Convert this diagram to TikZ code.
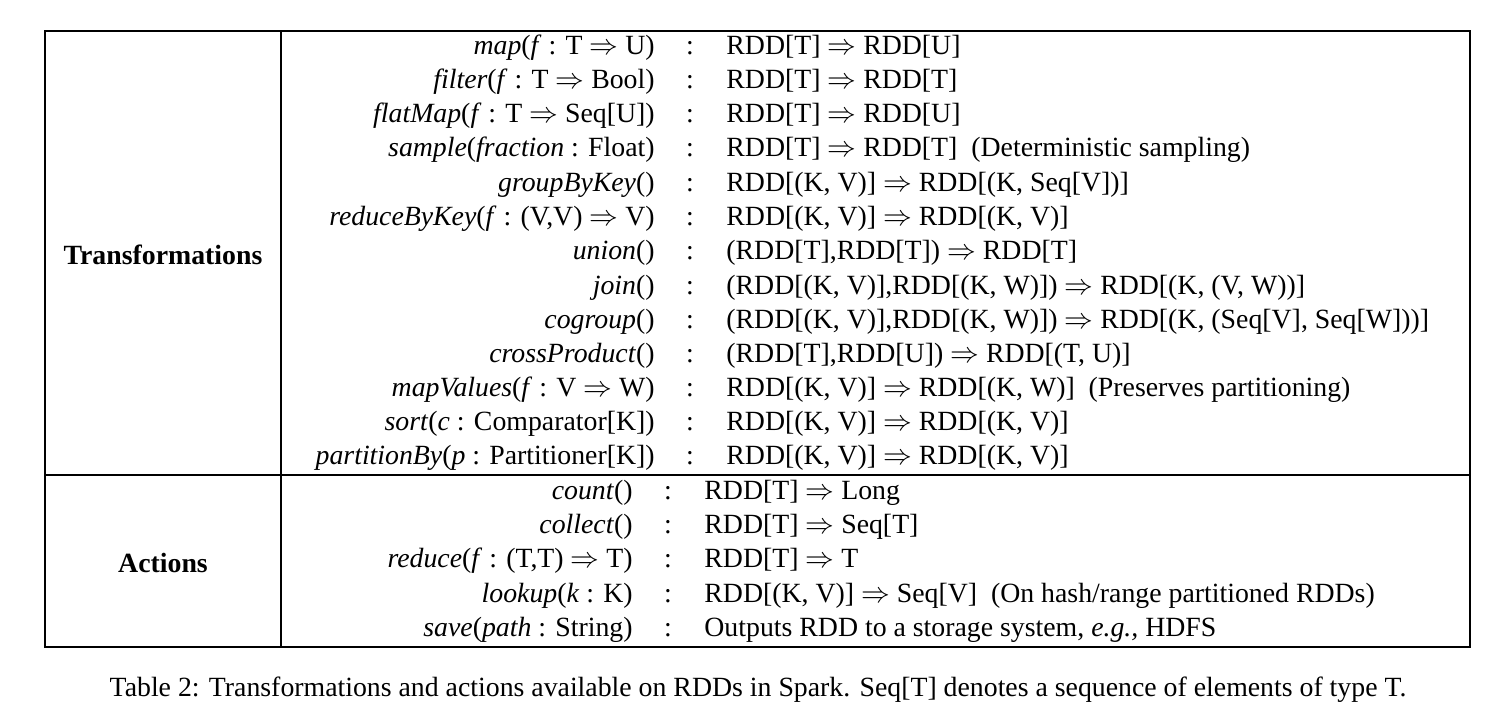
\documentclass[tikz,border=0pt]{standalone}
\usepackage{fontspec}
\setmainfont{Liberation Serif}
\begin{document}
\begin{tikzpicture}[x=0.5pt,y=-0.5pt,
  txt/.style={font=\fontsize{13.9}{15}\selectfont,inner sep=0pt,yshift=-2pt},
  lft/.style={txt,anchor=mid east},
  rgt/.style={txt,anchor=mid west},
  col/.style={txt,anchor=mid}]
\useasboundingbox (0,0) rectangle (1512,710);
\draw[line width=0.8pt] (45,31) rectangle (1470,647);
\draw[line width=0.8pt] (281,31) -- (281,647);
\draw[line width=0.8pt] (45,475) -- (1470,475);
\node[txt,font=\fontsize{13.9}{15}\selectfont\bfseries] (tr) at (163,251) {Transformations};
\node[txt,font=\fontsize{13.9}{15}\selectfont\bfseries] (ac) at (163,559) {Actions};
\def\R{$\Rightarrow$}
\foreach \i/\y/\l/\r in {
 1/46/{\textit{map}(\textit{f} : T \R\ U)}/{RDD[T] \R\ RDD[U]},
 2/80/{\textit{filter}(\textit{f} : T \R\ Bool)}/{RDD[T] \R\ RDD[T]},
 3/114/{\textit{flatMap}(\textit{f} : T \R\ Seq[U])}/{RDD[T] \R\ RDD[U]},
 4/148/{\textit{sample}(\textit{fraction} : Float)}/{RDD[T] \R\ RDD[T]\ \ (Deterministic sampling)},
 5/183/{\textit{groupByKey}()}/{RDD[(K, V)] \R\ RDD[(K, Seq[V])]},
 6/217/{\textit{reduceByKey}(\textit{f} : (V,V) \R\ V)}/{RDD[(K, V)] \R\ RDD[(K, V)]},
 7/251/{\textit{union}()}/{(RDD[T],RDD[T]) \R\ RDD[T]},
 8/286/{\textit{join}()}/{(RDD[(K, V)],RDD[(K, W)]) \R\ RDD[(K, (V, W))]},
 9/320/{\textit{cogroup}()}/{(RDD[(K, V)],RDD[(K, W)]) \R\ RDD[(K, (Seq[V], Seq[W]))]},
 10/354/{\textit{crossProduct}()}/{(RDD[T],RDD[U]) \R\ RDD[(T, U)]},
 11/388/{\textit{mapValues}(\textit{f} : V \R\ W)}/{RDD[(K, V)] \R\ RDD[(K, W)]\ \ (Preserves partitioning)},
 12/422/{\textit{sort}(\textit{c} : Comparator[K])}/{RDD[(K, V)] \R\ RDD[(K, V)]},
 13/456/{\textit{partitionBy}(\textit{p} : Partitioner[K])}/{RDD[(K, V)] \R\ RDD[(K, V)]}} {
  \node[lft] (tl\i) at (655,\y) {\l};
  \node[col] (tc\i) at (690,\y) {:};
  \node[rgt] (tr\i) at (726,\y) {\r};
}
\foreach \i/\y/\l/\r in {
 1/491/{\textit{count}()}/{RDD[T] \R\ Long},
 2/525/{\textit{collect}()}/{RDD[T] \R\ Seq[T]},
 3/559/{\textit{reduce}(\textit{f} : (T,T) \R\ T)}/{RDD[T] \R\ T},
 4/594/{\textit{lookup}(\textit{k} : K)}/{RDD[(K, V)] \R\ Seq[V]\ \ (On hash/range partitioned RDDs)},
 5/628/{\textit{save}(\textit{path} : String)}/{Outputs RDD to a storage system, \textit{e.g.,} HDFS}} {
  \node[lft] (al\i) at (633,\y) {\l};
  \node[col] (ac\i) at (668,\y) {:};
  \node[rgt] (ar\i) at (704,\y) {\r};
}
\node[txt] (cap) at (758,686) {Table 2: Transformations and actions available on RDDs in Spark. Seq[T] denotes a sequence of elements of type T.};
\end{tikzpicture}
\end{document}
